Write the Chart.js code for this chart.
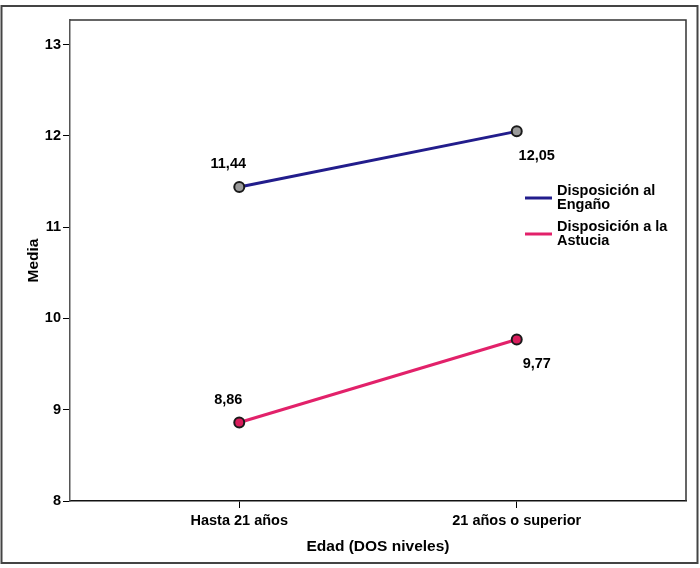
<!DOCTYPE html>
<html>
<head>
<meta charset="utf-8">
<script src="https://cdn.jsdelivr.net/npm/chart.js@4"></script>
<style>
  html, body { margin: 0; padding: 0; background: #fff; }
  #wrap { width: 700px; height: 568px; position: relative; }
</style>
</head>
<body>
<div id="wrap"><canvas id="meansChart" width="700" height="568"></canvas></div>
<script>
const categories = ["Hasta 21 años", "21 años o superior"];
const seriesNames = ["Disposición al Engaño", "Disposición a la Astucia"];
const engano = [11.44, 12.05];
const astucia = [8.86, 9.77];
const yTicks = [8, 9, 10, 11, 12, 13];

const lineColors = ["#221d8c", "#e2216a"];
const pointColors = ["#9b9b9b", "#d91d5c"];
const FONT = "'Liberation Sans', Arial, sans-serif";

function fmt(v) {
  return v.toFixed(2).replace(".", ",");
}

// outer border + frame around the plot
const framePlugin = {
  id: "frame",
  beforeDraw(chart) {
    const ctx = chart.ctx;
    ctx.save();
    ctx.fillStyle = "#fff";
    ctx.fillRect(0, 0, chart.width, chart.height);
    ctx.strokeStyle = "#444";
    ctx.lineWidth = 2;
    ctx.strokeRect(1.5, 6, 696, 557);
    ctx.restore();
  },
  afterDraw(chart) {
    const a = chart.chartArea;
    const ctx = chart.ctx;
    ctx.save();
    ctx.strokeStyle = "#333";
    ctx.lineWidth = 1.5;
    ctx.beginPath();
    ctx.moveTo(a.left, a.top);
    ctx.lineTo(a.right, a.top);
    ctx.lineTo(a.right, a.bottom);
    ctx.stroke();
    ctx.restore();
  }
};

// value labels next to each point
const valueLabels = {
  id: "valueLabels",
  afterDatasetsDraw(chart) {
    const ctx = chart.ctx;
    ctx.save();
    ctx.font = "bold 14.5px " + FONT;
    ctx.fillStyle = "#000";
    ctx.textAlign = "center";
    ctx.textBaseline = "middle";
    chart.data.datasets.forEach((ds, di) => {
      chart.getDatasetMeta(di).data.forEach((pt, i) => {
        const dx = i === 0 ? -11 : 20;
        const dy = i === 0 ? -23 : 25;
        ctx.fillText(fmt(ds.data[i].y), pt.x + dx, pt.y + dy);
      });
    });
    ctx.restore();
  }
};

// legend inside the plot, right side, wrapped text
const insideLegend = {
  id: "insideLegend",
  afterDraw(chart) {
    const ctx = chart.ctx;
    const a = chart.chartArea;
    const lx = 525, tx = 557, maxW = a.right - tx - 4;
    let y = 191;
    ctx.save();
    ctx.font = "bold 14.5px " + FONT;
    ctx.textBaseline = "middle";
    ctx.textAlign = "left";
    chart.data.datasets.forEach((ds) => {
      const words = ds.label.split(" ");
      const lines = [];
      let cur = "";
      words.forEach(w => {
        const test = cur ? cur + " " + w : w;
        if (ctx.measureText(test).width > maxW && cur) {
          lines.push(cur);
          cur = w;
        } else {
          cur = test;
        }
      });
      lines.push(cur);
      const lh = 14;
      lines.forEach((ln, k) => {
        ctx.fillStyle = "#000";
        ctx.fillText(ln, tx, y + k * lh);
      });
      const midY = y + (lines.length - 1) * lh / 2;
      ctx.strokeStyle = ds.borderColor;
      ctx.lineWidth = 3;
      ctx.beginPath();
      ctx.moveTo(lx, midY);
      ctx.lineTo(lx + 27, midY);
      ctx.stroke();
      y += lines.length * lh + 8;
    });
    ctx.restore();
  }
};

function makeSet(label, values, i) {
  return {
    label: label,
    data: values.map((v, k) => ({ x: k, y: v })),
    borderColor: lineColors[i],
    backgroundColor: pointColors[i],
    pointBackgroundColor: pointColors[i],
    pointBorderColor: "#1a1a1a",
    pointBorderWidth: 2,
    pointRadius: 5,
    borderWidth: 3,
    tension: 0
  };
}

new Chart(document.getElementById("meansChart"), {
  type: "line",
  data: {
    datasets: [
      makeSet(seriesNames[0], engano, 0),
      makeSet(seriesNames[1], astucia, 1)
    ]
  },
  plugins: [framePlugin, valueLabels, insideLegend],
  options: {
    responsive: false,
    animation: false,
    layout: { padding: { left: 0, top: 20, right: 14, bottom: 0 } },
    plugins: {
      legend: { display: false },
      tooltip: { enabled: false }
    },
    scales: {
      x: {
        type: "linear",
        min: -0.61,
        max: 1.61,
        afterBuildTicks(scale) {
          scale.ticks = categories.map((c, i) => ({ value: i }));
        },
        afterFit(scale) { scale.height = 67; },
        ticks: {
          callback: (v) => categories[v] !== undefined ? categories[v] : "",
          font: { family: FONT, size: 14.5, weight: "bold" },
          color: "#000",
          padding: 4,
          maxRotation: 0,
          autoSkip: false
        },
        grid: { drawOnChartArea: false, drawTicks: true, tickLength: 7, color: "#000", lineWidth: 1 },
        border: { display: true, color: "#111", width: 1.5 },
        title: {
          display: true,
          text: "Edad (DOS niveles)",
          font: { family: FONT, size: 15.5, weight: "bold" },
          color: "#000",
          padding: { top: 0, bottom: 12 }
        }
      },
      y: {
        type: "linear",
        min: 8,
        max: 13.27,
        afterBuildTicks(scale) {
          scale.ticks = yTicks.map(v => ({ value: v }));
        },
        afterFit(scale) { scale.width = 70; },
        ticks: {
          font: { family: FONT, size: 14.5, weight: "bold" },
          color: "#000",
          padding: 2
        },
        grid: { drawOnChartArea: false, drawTicks: true, tickLength: 7, color: "#000", lineWidth: 1 },
        border: { display: true, color: "#555", width: 1.5 },
        title: {
          display: true,
          text: "Media",
          font: { family: FONT, size: 15.5, weight: "bold" },
          color: "#000",
          padding: { top: 24, bottom: 0 }
        }
      }
    }
  }
});
</script>
</body>
</html>
